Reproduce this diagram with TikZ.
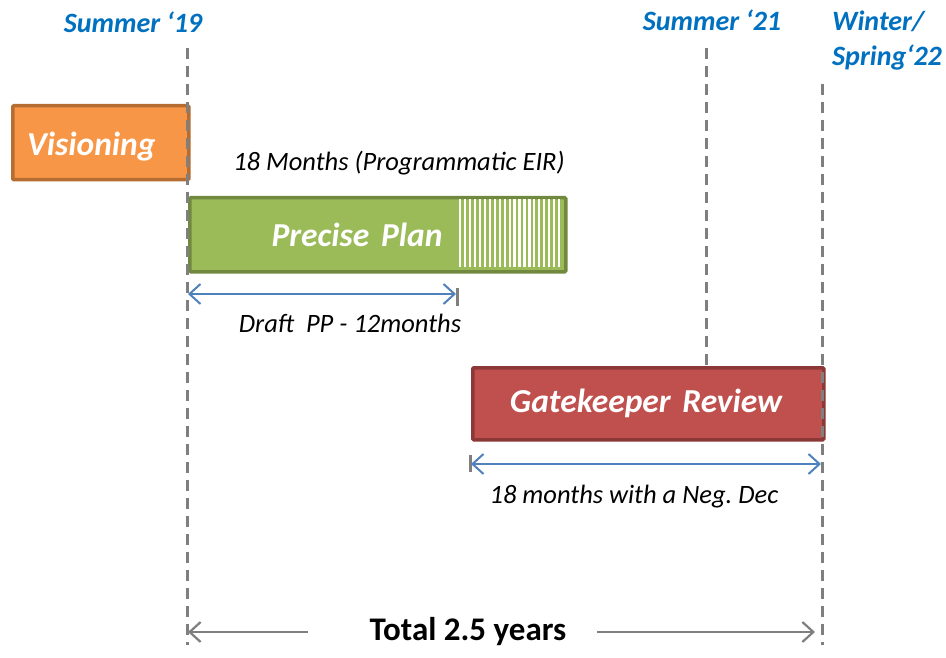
\documentclass[tikz,border=0pt]{standalone}
\usepackage{fontspec}
\setmainfont{Carlito}
\usetikzlibrary{arrows.meta}
\frenchspacing
\definecolor{lblue}{HTML}{0070C0}
\definecolor{arrblue}{HTML}{4F81BD}
\definecolor{orfill}{HTML}{F79646}
\definecolor{ordraw}{HTML}{B66D31}
\definecolor{grfill}{HTML}{9BBB59}
\definecolor{grdraw}{HTML}{71893F}
\definecolor{rdfill}{HTML}{C0504D}
\definecolor{rddraw}{HTML}{8C3836}
\definecolor{dgray}{HTML}{7F7F7F}
\tikzset{
  datelbl/.style={text=lblue, font=\fontsize{28}{35}\selectfont\bfseries\itshape, inner sep=0pt},
  bar/.style={draw, line width=3.5pt, rounded corners=1pt, anchor=north west, inner sep=0pt},
  bartext/.style={text=white, font=\fontsize{33.5}{36}\selectfont\bfseries\itshape, inner sep=0pt},
  note/.style={font=\fontsize{26.5}{28}\selectfont\itshape, inner sep=0pt},
  vline/.style={draw=dgray, line width=3pt, dash pattern=on 11pt off 7pt},
  tick/.style={draw=dgray, line width=3pt},
  barrow/.style={draw=arrblue, line width=2pt, {Straight Barb[length=11pt,width=20pt]}-{Straight Barb[length=11pt,width=20pt]}},
  garrow/.style={draw=dgray, line width=2.2pt},
}
\begin{document}
\begin{tikzpicture}[x=1pt,y=-1pt]
\useasboundingbox[fill=white] (0,0) rectangle (946,658);
% date labels
\node[datelbl] (s19) at (133,22) {Summer ‘19};
\node[datelbl] (s21) at (712,20) {Summer ‘21};
\node[datelbl, align=left, anchor=west] (w22) at (832,41) {Winter/\\Spring‘22};
% bars
\node[bar, fill=orfill, draw=ordraw, minimum width=176, minimum height=74] (vis) at (11,104) {};
\node[bartext, anchor=west] (vist) at (27,147) {Visioning};
\node[note] (eir) at (399,163) {18 Months (Programmatic EIR)};
\node[bar, fill=grfill, draw=grdraw, minimum width=376, minimum height=74] (pp) at (188,196) {};
\foreach \i in {0,...,20} {
  \fill[white] (459+\i*4.95,199) rectangle ++(2.2,68);
}
\node[bartext] (ppt) at (357,235) {Precise\hspace{0.35em}Plan};
\node[bar, fill=rdfill, draw=rddraw, minimum width=351, minimum height=72] (gk) at (471,366) {};
\node[bartext] (gkt) at (646,403) {Gatekeeper\hspace{0.35em}Review};
% dashed time lines
\coordinate (a1) at (187,48);
\coordinate (a2) at (187,645);
\coordinate (b1) at (706,48);
\coordinate (b2) at (706,367);
\coordinate (c1) at (822,84);
\coordinate (c2) at (822,645);
\draw[vline] (a1) -- (a2);
\draw[vline] (b1) -- (b2);
\draw[vline] (c1) -- (c2);
% small ticks
\coordinate (t1) at (457,288);
\coordinate (t2) at (457,306);
\coordinate (t3) at (470,455);
\coordinate (t4) at (470,472);
\draw[tick] (t1) -- (t2);
\draw[tick] (t3) -- (t4);
% blue arrows
\coordinate (d1) at (188,294);
\coordinate (d2) at (456,294);
\draw[barrow] (d1) -- (d2);
\node[note] (dpp) at (350,323) {Draft\ \ PP - 12months};
\coordinate (g1) at (471,464);
\coordinate (g2) at (821,464);
\draw[barrow] (g1) -- (g2);
\node[note] (neg) at (634,497) {18 months with a Neg. Dec};
% total
\node[font=\fontsize{33}{35}\selectfont\bfseries, inner sep=0pt] (tot) at (468,632) {Total 2.5 years};
\coordinate (h1) at (188,632);
\coordinate (h2) at (815,632);
\coordinate (h3) at (308,632);
\coordinate (h4) at (597,632);
\draw[garrow, {Straight Barb[length=11pt,width=20pt]}-] (h1) -- (h3);
\draw[garrow, -{Straight Barb[length=11pt,width=20pt]}] (h4) -- (h2);
\end{tikzpicture}
\end{document}
